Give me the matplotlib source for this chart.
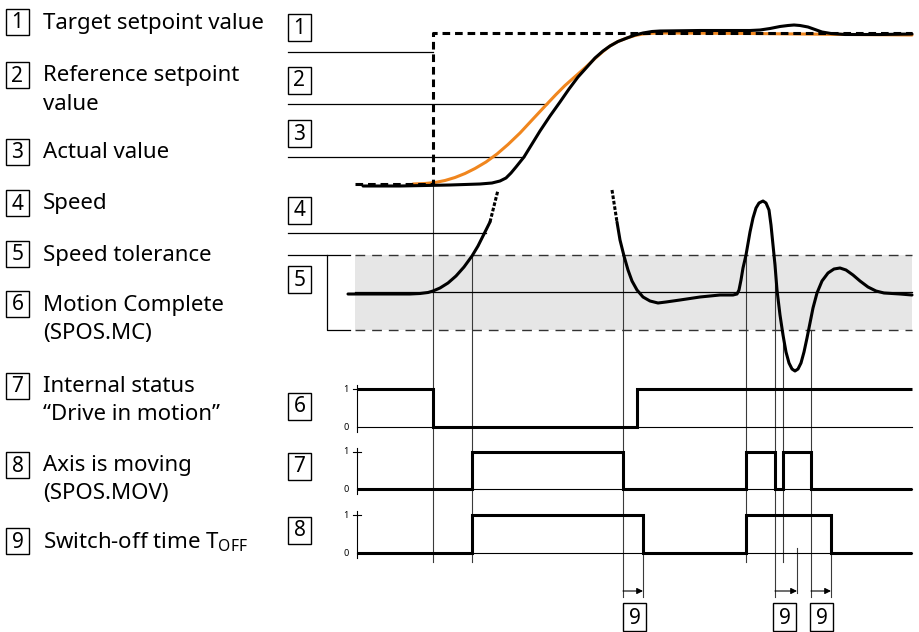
import matplotlib.pyplot as plt
from matplotlib.patches import Rectangle

plt.rcParams['font.family'] = ['Noto Sans', 'DejaVu Sans']
plt.rcParams['mathtext.fontset'] = 'custom'
plt.rcParams['mathtext.rm'] = 'Noto Sans'

# legend on the left
legend_nums = ['1', '2', '3', '4', '5', '6', '7', '8', '9']
legend_text = [
	['Target setpoint value'],
	['Reference setpoint', 'value'],
	['Actual value'],
	['Speed'],
	['Speed tolerance'],
	['Motion Complete', '(SPOS.MC)'],
	['Internal status', '\u201cDrive in motion\u201d'],
	['Axis is moving', '(SPOS.MOV)'],
	[r'Switch-off time T$_{\mathrm{OFF}}$'],
]
legend_y = [22, 75, 152, 203, 254, 304, 386, 465, 541]

# numbered boxes in the chart area
chart_box_y = [27, 80, 133, 210, 279, 406, 466, 530]
# lines under boxes: (y, x end)
guide_y = [52, 104, 157, 233]
guide_end = [433, 547, 524, 486]

# position curves (time px, position px)
target_x = [355, 433, 433, 912]
target_y = [184, 184, 33, 33]
actual_x = [363, 400, 450, 480, 492, 500, 506, 511, 516, 520, 524, 532, 540, 550, 560, 569, 578,
	587, 595, 603, 610, 618, 627, 635, 643, 652, 660, 700, 750, 760, 770, 780, 788, 794,
	800, 808, 815, 822, 831, 845, 880, 912]
actual_y = [186, 186, 185, 184, 183, 181, 178, 173, 167, 162, 157, 144, 131, 116, 102, 89, 77,
	67, 58, 51, 46, 41.5, 38, 35, 33, 31.5, 31, 30.5, 30.5, 30, 28.5, 26.5, 25.5, 25,
	25.5, 27, 29.5, 32, 33.5, 34.5, 34.5, 34]
ref_x = [413, 425, 435, 445, 455, 465, 475, 486, 497, 508, 520, 533, 547, 556, 565, 578, 587,
	595, 603, 610, 618, 627, 635, 643, 652, 660, 750, 850, 912]
ref_y = [184, 183.5, 182.5, 180.5, 177.5, 173.5, 168.5, 162, 154, 144.5, 133, 119, 104, 94.5, 85.5, 74, 66,
	58.5, 51.5, 46, 41.5, 38, 35.5, 34, 33.3, 33, 33.5, 34.5, 35]

# speed curve
speed_a_x = [348, 380, 410, 420, 428, 433, 440, 448, 456, 464, 472, 478, 484, 490]
speed_a_y = [294, 294, 294, 293.5, 292.5, 291, 288, 283, 276, 267, 256, 246, 234, 222]
speed_a_cut_x = [490, 498]
speed_a_cut_y = [222, 190]
speed_b_cut_x = [612, 617]
speed_b_cut_y = [190, 222]
speed_b_x = [617, 620, 624, 628, 632, 637, 643, 650, 658, 666, 680, 700, 720, 733, 737, 739,
	741, 743, 746, 750, 753, 756, 759, 763, 766, 769, 771, 773, 775, 777, 780, 783,
	786, 789, 792, 795, 798, 801, 804, 807, 810, 813, 817, 822, 828, 834, 840, 846,
	853, 860, 868, 876, 884, 900, 912]
speed_b_y = [222, 240, 256, 270, 281, 290, 297, 301, 303, 302, 300, 297, 295, 295, 294, 290,
	280, 268, 255, 232, 218, 208, 203, 201, 203, 210, 225, 245, 265, 290, 315, 335,
	352, 363, 369, 371, 369, 363, 352, 338, 323, 308, 293, 281, 273, 269, 268, 270,
	275, 281, 287, 291, 293, 294, 295]
tol_top, tol_mid, tol_bot = 255, 292, 330

# binary signals: edges and states
mc_edges = [357, 433, 637, 912]
mc_states = [1, 0, 1]
dim_edges = [357, 472, 623, 746, 775, 783, 811, 912]
dim_states = [0, 1, 0, 1, 0, 1, 0]
mov_edges = [357, 472, 643, 746, 831, 912]
mov_states = [0, 1, 0, 1, 0]
signal_high = [389, 452, 515]
signal_low = [427, 489, 553]

# vertical event lines (x, top, bottom)
event_x = [433, 472, 623, 643, 746, 775, 783, 797, 811, 831]
event_top = [185, 255, 255, 515, 255, 262, 330, 548, 330, 515]
event_bot = [562, 562, 597, 597, 562, 597, 562, 593, 597, 597]

# switch-off time arrows and boxes
toff_start = [623, 775, 811]
toff_end = [643, 797, 831]
toff_box_x = [623, 773, 810]


def num_box(ax, x, yc, label, w=23, h=26):
	ax.add_patch(Rectangle((x, yc - h / 2), w, h, fill=False, lw=1.0, ec='black'))
	ax.text(x + w / 2, yc + 1, label, ha='center', va='center', fontsize=15)


fig = plt.figure(figsize=(9.19, 6.32), dpi=100)
ax = fig.add_axes([0, 0, 1, 1])
ax.set_xlim(0, 919)
ax.set_ylim(632, 0)
ax.axis('off')

# left legend
for num, lines, yc in zip(legend_nums, legend_text, legend_y):
	num_box(ax, 6, yc, num)
	for i, t in enumerate(lines):
		ax.text(43, yc + 1 + i * 28, t, ha='left', va='center', fontsize=16)

# chart boxes
for i, yc in enumerate(chart_box_y):
	num_box(ax, 288, yc, str(i + 1), h=27)
for yg, xe in zip(guide_y, guide_end):
	ax.plot([288, xe], [yg, yg], color='black', lw=0.9)

# tolerance band
ax.add_patch(Rectangle((355, tol_top), 912 - 355, tol_bot - tol_top, color='#e6e6e6', lw=0, zorder=0))
ax.plot([355, 912], [tol_top, tol_top], color='#333333', lw=1, ls=(0, (7, 5)))
ax.plot([355, 912], [tol_bot, tol_bot], color='#333333', lw=1, ls=(0, (7, 5)))
ax.plot([355, 912], [tol_mid, tol_mid], color='black', lw=0.9)
ax.plot([288, 350], [tol_top, tol_top], color='black', lw=0.9)
ax.plot([327, 327, 350], [tol_top, tol_bot, tol_bot], color='black', lw=0.9)

# event lines
for x, t, b in zip(event_x, event_top, event_bot):
	ax.plot([x, x], [t, b], color='#3a3a3a', lw=0.8, zorder=1)

# position curves
ax.plot(ref_x, ref_y, color='#f0861e', lw=2.2, solid_capstyle='round', solid_joinstyle='round', zorder=3)
ax.plot(actual_x, actual_y, color='black', lw=2.2, solid_capstyle='round', solid_joinstyle='round', zorder=4)
ax.plot(target_x, target_y, color='black', lw=2.2, ls=(0, (2.5, 1.6)), zorder=5)

# speed
for xs, ys in [(speed_a_x, speed_a_y), (speed_b_x, speed_b_y)]:
	ax.plot(xs, ys, color='black', lw=2.2, solid_capstyle='round', solid_joinstyle='round', zorder=4)
for xs, ys in [(speed_a_cut_x, speed_a_cut_y), (speed_b_cut_x, speed_b_cut_y)]:
	ax.plot(xs, ys, color='black', lw=2.2, ls=(0, (1.2, 0.6)), zorder=4)

# binary signals
for edges, states, yh, yl in zip([mc_edges, dim_edges, mov_edges], [mc_states, dim_states, mov_states],
		signal_high, signal_low):
	ax.plot([357, 357], [yh - 4, yl + 5], color='black', lw=0.8)
	ax.plot([353, 361], [yh, yh], color='black', lw=0.8)
	ax.plot([357, 912], [yl, yl], color='black', lw=0.8)
	ax.text(346, yh, '1', ha='center', va='center', fontsize=6.5, fontweight='bold')
	ax.text(346, yl, '0', ha='center', va='center', fontsize=6.5, fontweight='bold')
	ys = [yl - s * (yl - yh) for s in states]
	ax.stairs(ys, edges, baseline=None, color='black', lw=2.2, zorder=4)

# switch-off time arrows
for xs, xe, bx in zip(toff_start, toff_end, toff_box_x):
	ax.annotate('', xy=(xe, 591), xytext=(xs, 591),
		arrowprops=dict(arrowstyle='-|>', lw=0.8, color='black', mutation_scale=9, shrinkA=0, shrinkB=0))
	ax.add_patch(Rectangle((bx, 603), 23, 28, fill=False, lw=1.0, ec='black'))
	ax.text(bx + 11.5, 618, '9', ha='center', va='center', fontsize=15)

plt.savefig('out.png', dpi=100)
